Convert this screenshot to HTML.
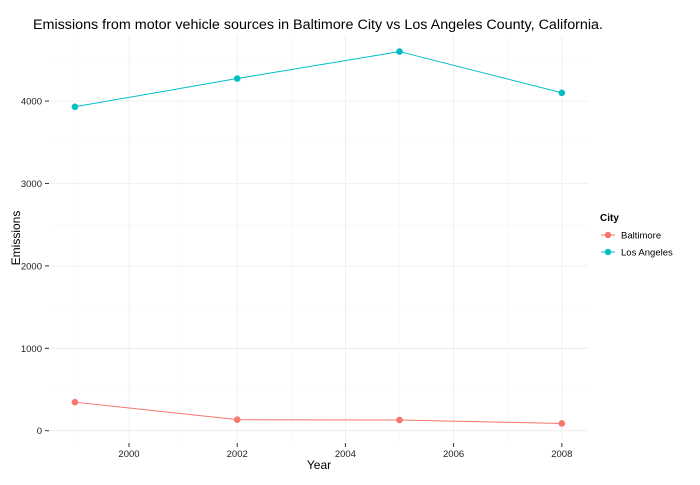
<!DOCTYPE html>
<html><head><meta charset="utf-8"><style>
body{margin:0;background:#fff;font-family:"Liberation Sans",sans-serif}
svg text{font-family:"Liberation Sans",sans-serif}
</style></head><body>
<svg width="700" height="480" xmlns="http://www.w3.org/2000/svg">
<text x="33" y="29" font-size="14.2" textLength="570" lengthAdjust="spacingAndGlyphs" fill="#000">Emissions from motor vehicle sources in Baltimore City vs Los Angeles County, California.</text>
<g id="grid"></g>
<g id="axes"></g>
<g id="series"></g>
<text x="319" y="469" font-size="12" text-anchor="middle">Year</text>
<text transform="translate(20,238) rotate(-90)" font-size="12" text-anchor="middle">Emissions</text>
<g>
<text x="600" y="221" font-size="10" font-weight="bold">City</text>
<g>
<line x1="601" y1="235" x2="615" y2="235" stroke="#F8766D" stroke-width="1"/>
<circle cx="608" cy="235" r="3.2" fill="#F8766D"/>
<text x="621" y="238.5" font-size="9.5">Baltimore</text></g>
<g>
<line x1="601" y1="252" x2="615" y2="252" stroke="#00BFC4" stroke-width="1"/>
<circle cx="608" cy="252" r="3.2" fill="#00BFC4"/>
<text x="621" y="255.5" font-size="9.5">Los Angeles</text></g>
</g>
</svg>
<script>
const years=[1999,2002,2005,2008];
const baltimore=[346,134,130,88];
const losAngeles=[3931,4274,4601,4101];
const xTicks=[2000,2002,2004,2006,2008];
const yTicks=[0,1000,2000,3000,4000];
const NS="http://www.w3.org/2000/svg";
const X=v=>129+(v-2000)*54.1;
const Y=v=>430.7-v*0.0824;
const L=50,R=588,T=35,B=442;
function mk(tag,attrs,parent){const e=document.createElementNS(NS,tag);for(const k in attrs)e.setAttribute(k,attrs[k]);parent.appendChild(e);return e;}
const grid=document.getElementById('grid'),axes=document.getElementById('axes'),series=document.getElementById('series');
for(let v=-500;v<=4600;v+=500){const y=Y(v);if(y<T||y>B)continue;const major=v%1000===0;
const g=mk('line',{x1:L,x2:R,y1:y,y2:y,stroke:major?'#ececec':'#f6f6f6','stroke-width':major?0.8:0.5},grid);
}
for(let v=1999;v<=2008;v++){const x=X(v);if(x<L||x>R)continue;const major=v%2===0;
const g=mk('line',{x1:x,x2:x,y1:T,y2:B,stroke:major?'#ececec':'#f6f6f6','stroke-width':major?0.8:0.5},grid);
}
yTicks.forEach(v=>{const y=Y(v);
const t=mk('line',{x1:45,x2:49,y1:y,y2:y,stroke:'#333','stroke-width':1},axes);

const l=mk('text',{x:42,y:y+3.5,'font-size':9.5,'text-anchor':'end',fill:'#222'},axes);l.textContent=v;
});
xTicks.forEach(v=>{const x=X(v);
const t=mk('line',{x1:x,x2:x,y1:443,y2:447,stroke:'#333','stroke-width':1},axes);

const l=mk('text',{x:x,y:457,'font-size':9.5,'text-anchor':'middle',fill:'#222'},axes);l.textContent=v;
});
function draw(vals,color,name){
const p=mk('polyline',{points:years.map((y,i)=>X(y)+','+Y(vals[i])).join(' '),fill:'none',stroke:color,'stroke-width':1},series);

vals.forEach((v,i)=>{const c=mk('circle',{cx:X(years[i]),cy:Y(v),r:3.3,fill:color},series);
});}
draw(baltimore,'#F8766D','baltimore');
draw(losAngeles,'#00BFC4','los-angeles');
</script>
</body></html>
